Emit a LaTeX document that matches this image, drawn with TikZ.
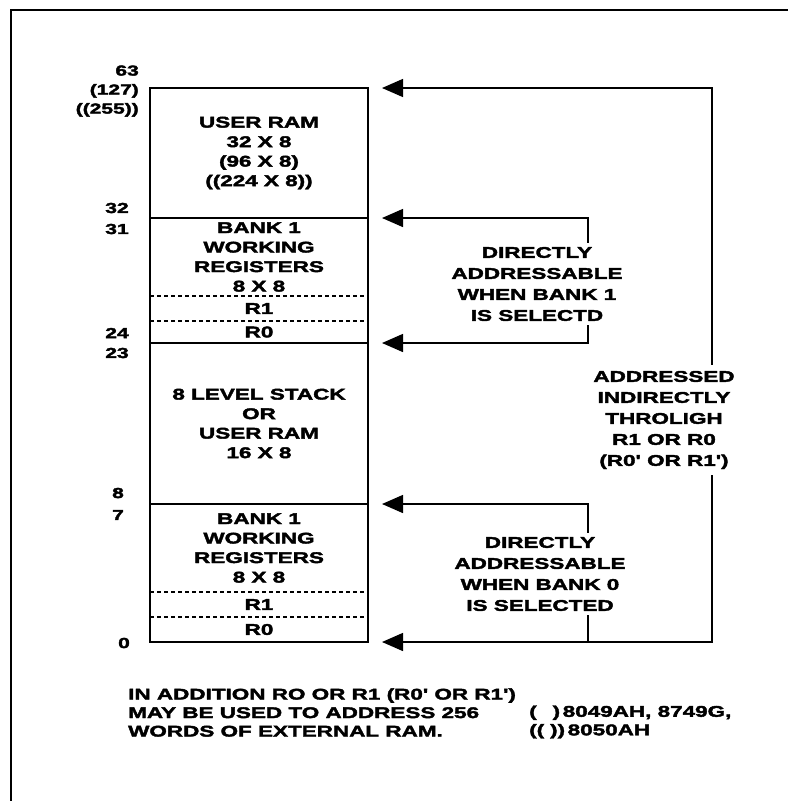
\documentclass[tikz,border=0pt]{standalone}
\usepackage{fontspec}
\newfontfamily\memfont{Liberation Sans}[FakeStretch=1.45,BoldFeatures={FakeBold=2.5}]
\usetikzlibrary{arrows.meta,positioning}
\tikzset{
  >={Triangle[length=21pt,width=18pt]},
  frm/.style={line width=1.6pt},
  box/.style={line width=2.2pt},
  sep/.style={line width=1.2pt,dash pattern=on 4pt off 3pt},
  lnk/.style={line width=1.4pt},
  arr/.style={lnk,->},
  reg/.style={minimum width=218pt,inner sep=0pt,outer sep=0pt,align=center,
    font=\memfont\bfseries\fontsize{15.5}{19.5}\selectfont},
  txt/.style={font=\memfont\bfseries\fontsize{15.5}{21}\selectfont,align=center,inner xsep=2pt,inner ysep=4pt},
  num/.style={font=\memfont\bfseries\fontsize{14.5}{19}\selectfont,align=right,inner sep=0pt},
  note/.style={font=\memfont\bfseries\fontsize{15.5}{18.5}\selectfont,align=left,inner sep=0pt},
}
\begin{document}
\begin{tikzpicture}[x=1pt,y=-1pt]
\useasboundingbox (0,0) rectangle (788,801);
\draw[frm] (11,801) |- (788,10);
% memory map
\node[reg,minimum height=130pt] (uram) at (259,153) {USER RAM\\32 X 8\\(96 X 8)\\((224 X 8))};
\node[reg,minimum height=78pt,below=0pt of uram] (bk1) {BANK 1\\WORKING\\REGISTERS\\8 X 8};
\node[reg,minimum height=25pt,below=0pt of bk1] (ra1) {R1};
\node[reg,minimum height=22pt,below=0pt of ra1] (ra0) {R0};
\node[reg,minimum height=161pt,below=0pt of ra0] (stk) {8 LEVEL STACK\\OR\\USER RAM\\16 X 8};
\node[reg,minimum height=88pt,below=0pt of stk] (bk0) {BANK 1\\WORKING\\REGISTERS\\8 X 8};
\node[reg,minimum height=25pt,below=0pt of bk0] (rb1) {R1};
\node[reg,minimum height=25pt,below=0pt of rb1] (rb0) {R0};
\draw[box] (uram.north west) rectangle (rb0.south east);
\draw[box] (uram.south west) -- (uram.south east); \draw[box] (ra0.south west) -- (ra0.south east); \draw[box] (stk.south west) -- (stk.south east);
\draw[sep] (bk1.south west) -- (bk1.south east); \draw[sep] (ra1.south west) -- (ra1.south east);
\draw[sep] (bk0.south west) -- (bk0.south east); \draw[sep] (rb1.south west) -- (rb1.south east);
% addresses
\node[num,anchor=east] (n63) at (139,91) {63\\(127)\\((255))};
\node[num] (n32) at (117,208) {32}; \node[num] (n31) at (117,229) {31};
\node[num] (n24) at (117,333) {24}; \node[num] (n23) at (117,353) {23};
\node[num] (n8) at (118,493) {8}; \node[num] (n7) at (118,515) {7};
\node[num] (n0) at (124,643) {0};
% addressing modes
\coordinate (p63) at ([xshift=14pt]uram.north east); \coordinate (p32) at ([xshift=14pt]uram.south east);
\coordinate (p24) at ([xshift=14pt]ra0.south east); \coordinate (p8) at ([xshift=14pt]stk.south east);
\coordinate (p0) at ([xshift=14pt]rb0.south east);
\coordinate (xm) at (588,0); \coordinate (xr) at (712,0);
\node[txt] (dir1) at (537,284) {DIRECTLY\\ADDRESSABLE\\WHEN BANK 1\\IS SELECTD};
\node[txt,inner ysep=6pt] (ind) at (664,420) {ADDRESSED\\INDIRECTLY\\THROLIGH\\R1 OR R0\\(R0' OR R1')};
\node[txt] (dir0) at (540,574) {DIRECTLY\\ADDRESSABLE\\WHEN BANK 0\\IS SELECTED};
\draw[arr] (ind.north -| xr) |- (p63); \draw[arr] (ind.south -| xr) |- (p0);
\draw[arr] (dir1.north -| xm) |- (p32); \draw[arr] (dir1.south -| xm) |- (p24);
\draw[arr] (dir0.north -| xm) |- (p8); \draw[lnk] (dir0.south -| xm) -- (xm |- p0);
% footnote
\node[note,anchor=west] (note) at (128,712.5) {IN ADDITION RO OR R1 (R0' OR R1')\\MAY BE USED TO ADDRESS 256\\WORDS OF EXTERNAL RAM.};
\node[note,anchor=west] (key) at (529,722) {(\hspace{16pt})\,8049AH, 8749G,\\((\hspace{6pt}))\,8050AH};
\end{tikzpicture}
\end{document}
